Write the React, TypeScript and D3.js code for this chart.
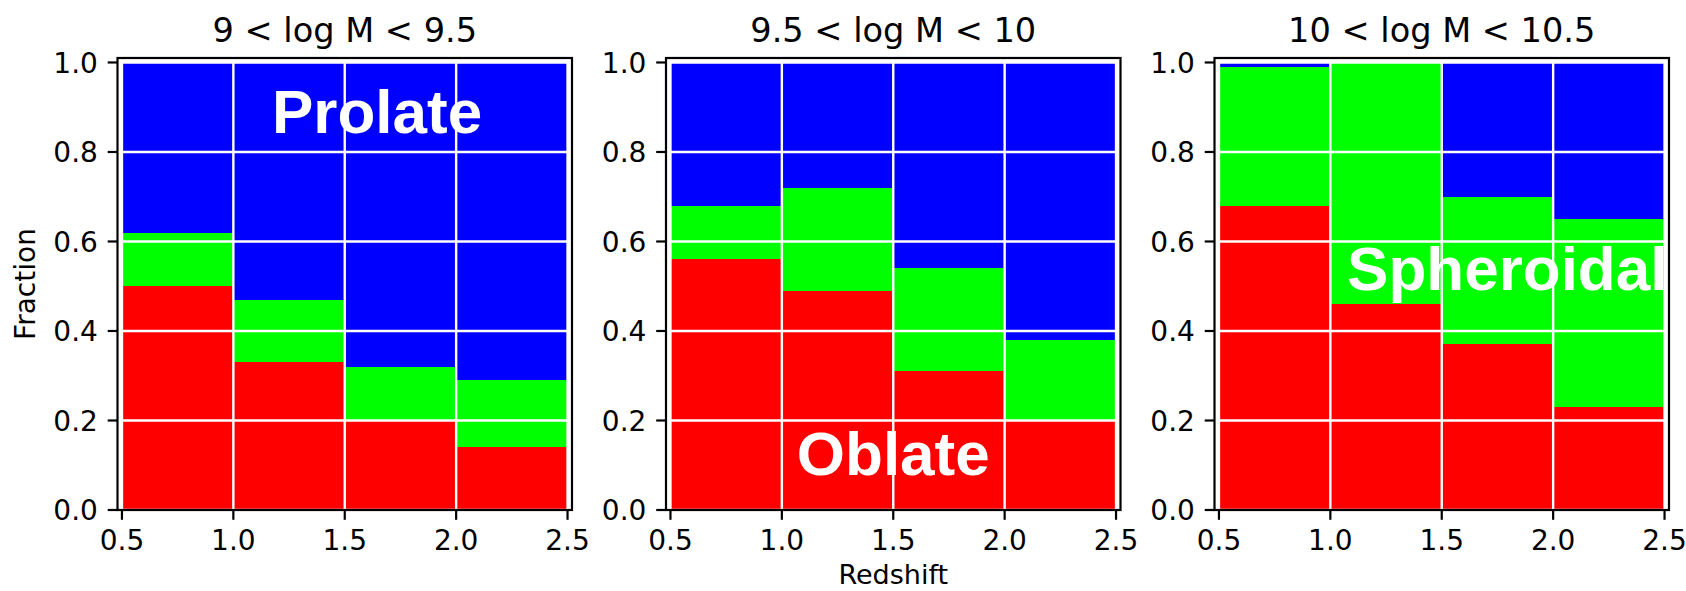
import React from 'react';
import * as d3 from 'd3';

// ---- data ----
const binEdges = [0.5, 1.0, 1.5, 2.0, 2.5];
const panelTitles = ['9 < log M < 9.5', '9.5 < log M < 10', '10 < log M < 10.5'];
// fractions per panel, per redshift bin
const oblateFrac = [
  [0.50, 0.33, 0.20, 0.14],
  [0.56, 0.49, 0.31, 0.20],
  [0.68, 0.46, 0.37, 0.23],
];
const spheroidalFrac = [
  [0.12, 0.14, 0.12, 0.15],
  [0.12, 0.23, 0.23, 0.18],
  [0.31, 0.538, 0.33, 0.42],
];
const prolateFrac = [
  [0.38, 0.53, 0.68, 0.71],
  [0.32, 0.28, 0.46, 0.62],
  [0.01, 0.002, 0.30, 0.35],
];
const xTicks = [0.5, 1.0, 1.5, 2.0, 2.5];
const yTicks = [0.0, 0.2, 0.4, 0.6, 0.8, 1.0];
const annotations = [
  { panel: 0, text: 'Prolate', x: 1.645, y: 0.8425 },
  { panel: 1, text: 'Oblate', x: 1.5, y: 0.078 },
  { panel: 2, text: 'Spheroidal', x: 1.794, y: 0.4916 },
];

// ---- layout / style ----
const W = 1686;
const H = 591;
const panelLefts = [117.5, 666, 1214.5];
const panelW = 454.5;
const top = 58;
const bottom = 510;
const colors = { oblate: '#ff0000', spheroidal: '#00ff00', prolate: '#0000ff' };
const tickFont = 'DejaVu Sans, sans-serif';

export default function App() {
  const y = d3.scaleLinear().domain([0, 1.01]).range([bottom, top]);
  return (
    <div style={{ position: 'absolute', left: 0, top: 0 }}>
      <svg width={W} height={H} style={{ display: 'block', background: '#fff' }}>
        {panelTitles.map((title, p) => {
          const x = d3.scaleLinear().domain([0.48, 2.52]).range([panelLefts[p], panelLefts[p] + panelW]);
          const bins = d3.range(binEdges.length - 1);
          return (
            <g key={p}>
              {bins.map((i) => {
                const x0 = x(binEdges[i]);
                const x1 = x(binEdges[i + 1]);
                const o = oblateFrac[p][i];
                const s = spheroidalFrac[p][i];
                const pr = prolateFrac[p][i];
                const segs = [
                  { lo: 0, hi: o, c: colors.oblate },
                  { lo: o, hi: o + s, c: colors.spheroidal },
                  { lo: o + s, hi: o + s + pr, c: colors.prolate },
                ];
                return segs.map((sg, k) => (
                  <rect
                    key={`${i}-${k}`}
                    x={x0}
                    width={x1 - x0}
                    y={y(sg.hi)}
                    height={Math.max(0, y(sg.lo) - y(sg.hi))}
                    fill={sg.c}
                    shapeRendering="crispEdges"
                  />
                ));
              })}
              {/* grid */}
              {xTicks.map((t) => (
                <line key={`gx${t}`} x1={x(t)} x2={x(t)} y1={top} y2={bottom} stroke="#fff" strokeWidth={2.4} />
              ))}
              {yTicks.map((t) => (
                <line key={`gy${t}`} x1={panelLefts[p]} x2={panelLefts[p] + panelW} y1={y(t)} y2={y(t)} stroke="#fff" strokeWidth={2.4} />
              ))}
              {/* annotations */}
              {annotations
                .filter((a) => a.panel === p)
                .map((a) => (
                  <text
                    key={a.text}
                    x={x(a.x)}
                    y={y(a.y)}
                    textAnchor="middle"
                    fill="#fff"
                    fontFamily="Liberation Sans, Arial, Helvetica, sans-serif"
                    fontWeight="bold"
                    fontSize={62}
                  >
                    {a.text}
                  </text>
                ))}
              {/* frame */}
              <rect
                x={panelLefts[p]}
                y={top}
                width={panelW}
                height={bottom - top}
                fill="none"
                stroke="#000"
                strokeWidth={2.2}
              />
              {/* x ticks */}
              {xTicks.map((t) => (
                <g key={`xt${t}`}>
                  <line x1={x(t)} x2={x(t)} y1={bottom} y2={bottom + 9.8} stroke="#000" strokeWidth={2.2} />
                  <text
                    x={x(t)}
                    y={bottom + 9.8 + 10 + 0.729 * 28}
                    textAnchor="middle"
                    fontFamily={tickFont}
                    fontSize={28}
                    fill="#000"
                  >
                    {d3.format('.1f')(t)}
                  </text>
                </g>
              ))}
              {/* y ticks */}
              {yTicks.map((t) => (
                <g key={`yt${t}`}>
                  <line x1={panelLefts[p] - 9.8} x2={panelLefts[p]} y1={y(t)} y2={y(t)} stroke="#000" strokeWidth={2.2} />
                  <text
                    x={panelLefts[p] - 9.8 - 9.8}
                    y={y(t) + 0.729 * 28 / 2}
                    textAnchor="end"
                    fontFamily={tickFont}
                    fontSize={28}
                    fill="#000"
                  >
                    {d3.format('.1f')(t)}
                  </text>
                </g>
              ))}
              {/* title */}
              <text
                x={panelLefts[p] + panelW / 2}
                y={41.5}
                textAnchor="middle"
                fontFamily={tickFont}
                fontSize={33.6}
                fill="#000"
              >
                {title}
              </text>
            </g>
          );
        })}
        <text
          x={panelLefts[1] + panelW / 2}
          y={584}
          textAnchor="middle"
          fontFamily={tickFont}
          fontSize={27}
          fill="#000"
        >
          Redshift
        </text>
        <text
          transform={`translate(35, ${(top + bottom) / 2}) rotate(-90)`}
          textAnchor="middle"
          fontFamily={tickFont}
          fontSize={28}
          fill="#000"
        >
          Fraction
        </text>
      </svg>
    </div>
  );
}
